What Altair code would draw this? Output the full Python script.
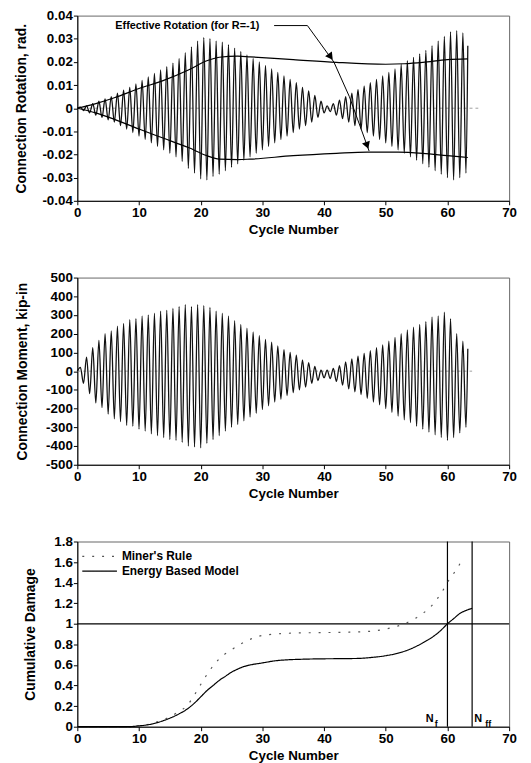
import altair as alt
import pandas as pd

FONT = "Liberation Sans"
X_TICKS = [0, 10, 20, 30, 40, 50, 60, 70]

# ---------------- Panel 1: connection rotation (rad) ----------------
# positive peak of each cycle (cycle k, at k+0.5) and negative peak (at k+1)
rot_peaks = [0.0005, 0.001, 0.002, 0.003, 0.004, 0.005, 0.0065, 0.0078, 0.009, 0.0105,
             0.012, 0.0135, 0.015, 0.0165, 0.018, 0.0195, 0.0215, 0.024, 0.0265, 0.029,
             0.0305, 0.030, 0.029, 0.0285, 0.0275, 0.026, 0.0245, 0.023, 0.0215, 0.020,
             0.0185, 0.017, 0.0155, 0.014, 0.0125, 0.011, 0.009, 0.0075, 0.0055, 0.003,
             0.001, 0.002, 0.0035, 0.005, 0.0065, 0.008, 0.0095, 0.011, 0.0125, 0.014,
             0.0155, 0.017, 0.019, 0.0205, 0.022, 0.0235, 0.025, 0.027, 0.029, 0.031,
             0.033, 0.0335, 0.0325]
rot_troughs = [-0.001, -0.002, -0.003, -0.004, -0.005, -0.006, -0.0075, -0.009, -0.0105, -0.012,
               -0.0135, -0.015, -0.0165, -0.018, -0.0195, -0.021, -0.023, -0.026, -0.028, -0.0305,
               -0.031, -0.0295, -0.0285, -0.027, -0.0255, -0.024, -0.0225, -0.021, -0.0195, -0.018,
               -0.0165, -0.015, -0.0135, -0.012, -0.0105, -0.009, -0.0075, -0.006, -0.004, -0.002,
               -0.0015, -0.003, -0.0045, -0.006, -0.0075, -0.009, -0.0105, -0.012, -0.0135, -0.015,
               -0.0165, -0.018, -0.0195, -0.021, -0.0225, -0.024, -0.0255, -0.027, -0.0285, -0.030,
               -0.031, -0.030, -0.028]
rot_end = [63.3, 0.027]

# effective rotation envelope (for R=-1)
env_up_x = [0, 3, 6, 10, 14, 18, 21, 23, 26, 28, 35, 42, 50, 53, 56, 60, 63.3]
env_up_y = [0, 0.002, 0.0045, 0.0085, 0.012, 0.0165, 0.0205, 0.022, 0.0225, 0.0222,
            0.021, 0.0198, 0.019, 0.0192, 0.0198, 0.021, 0.0213]
env_lo_x = [0, 3, 6, 10, 14, 18, 21, 23, 26, 28, 35, 42, 47, 52, 56, 60, 63.3]
env_lo_y = [0, -0.002, -0.0048, -0.009, -0.013, -0.017, -0.0205, -0.022, -0.0222, -0.022,
            -0.0205, -0.0195, -0.019, -0.019, -0.0195, -0.0205, -0.0213]

annot_text = ["Effective Rotation (for R=-1)"]
annot_x = [6.15]
annot_y = [0.0355]
leader_x = [31.9, 37.3, 41.6, 44.1, 47.3]
leader_y = [0.0357, 0.0357, 0.0199, 0.005, -0.0185]
arrow_x = [41.06, 46.98]
arrow_y = [0.0222, -0.0161]
arrow_angle = [324, 340]

# ---------------- Panel 2: connection moment (kip-in) ----------------
mom_peaks = [20, 75, 125, 165, 200, 215, 240, 255, 275, 280,
             295, 300, 310, 320, 325, 335, 345, 355, 345, 355,
             350, 340, 320, 310, 295, 270, 250, 230, 210, 190,
             170, 155, 135, 115, 100, 85, 60, 45, 25, 5,
             5, 15, 30, 50, 65, 80, 95, 110, 125, 140,
             160, 180, 200, 220, 235, 250, 265, 290, 295, 315,
             280, 200, 160]
mom_troughs = [-65, -120, -170, -195, -230, -255, -270, -290, -295, -310,
               -320, -335, -345, -355, -365, -370, -380, -400, -405, -410,
               -385, -365, -345, -320, -300, -285, -265, -245, -225, -205,
               -185, -165, -150, -130, -115, -100, -85, -65, -50, -35,
               -40, -55, -75, -95, -110, -125, -145, -165, -180, -200,
               -220, -240, -260, -275, -295, -310, -325, -340, -355, -370,
               -355, -330, -300]
mom_end = [63.3, 120]

# ---------------- Panel 3: cumulative damage ----------------
miner_x = [0, 8, 10, 12, 14, 16, 18, 19, 20, 21.5, 23, 24.8, 27, 29.5, 32, 35, 40, 45, 47,
           50, 53, 55, 56, 57.5, 59, 60.5, 61.5, 62.5]
miner_y = [0, 0, 0.01, 0.03, 0.07, 0.13, 0.22, 0.31, 0.41, 0.55, 0.66, 0.74, 0.82, 0.88,
           0.90, 0.91, 0.915, 0.92, 0.925, 0.95, 1.0, 1.06, 1.10, 1.18, 1.30, 1.45, 1.53, 1.64]
energy_x = [0, 8, 10, 12, 14, 16, 18, 19, 20, 21, 22, 23, 24, 25, 26, 27, 28, 30, 32, 34, 36,
            40, 44, 46, 48, 50, 52, 54, 56, 58, 59, 60, 61, 62, 63, 64]
energy_y = [0, 0, 0.008, 0.025, 0.06, 0.11, 0.18, 0.23, 0.29, 0.35, 0.40, 0.45, 0.49, 0.53,
            0.56, 0.585, 0.60, 0.62, 0.64, 0.65, 0.655, 0.66, 0.662, 0.665, 0.675, 0.69,
            0.715, 0.755, 0.815, 0.89, 0.94, 1.0, 1.05, 1.10, 1.13, 1.15]
failure_x = [60, 64]
damage_limit = [1.0]
n_text = ["N", "f", "N", "ff"]
n_x = [57.1, 58.2, 65.0, 66.6]
n_y = [0.075, 0.03, 0.075, 0.03]
n_size = [11, 9, 11, 9]
series_names = ["Miner's Rule", "Energy Based Model"]


def osc_frame(peaks, troughs, end):
    xs, ys = [0.0], [0.0]
    for k, (p, t) in enumerate(zip(peaks, troughs)):
        xs += [k + 0.5, k + 1.0]
        ys += [p, t]
    xs.append(end[0])
    ys.append(end[1])
    return pd.DataFrame({"x": xs, "y": ys})


X_AX = alt.Axis(values=X_TICKS, title="Cycle Number", labelFlush=False, titlePadding=4,
                labelOverlap=False, tickCount=len(X_TICKS))


def y_axis(title, values, fmt, pad):
    expr = ("datum.value < 0 ? '-' + format(-datum.value, '%s') : format(datum.value, '%s')"
            % (fmt, fmt))
    return alt.Axis(values=values, title=title, labelExpr=expr, titlePadding=pad,
                    titleFontSize=14, labelOverlap=False, tickCount=len(values))


W = 436
xs = alt.Scale(domain=[0, 70], nice=False, zero=False)


def enc(chart, ys, yax, **kw):
    return chart.encode(x=alt.X("x:Q", scale=xs, axis=X_AX),
                        y=alt.Y("y:Q", scale=ys, axis=yax), **kw)


# ---- panel 1
rot_df = osc_frame(rot_peaks, rot_troughs, rot_end)
ys1 = alt.Scale(domain=[-0.04, 0.04], nice=False)
y1_vals = [-0.04, -0.03, -0.02, -0.01, 0, 0.01, 0.02, 0.03, 0.04]
ax1 = y_axis("Connection Rotation, rad.", y1_vals, ".2~f", 14)

zero1 = enc(alt.Chart(pd.DataFrame({"x": [0, 65], "y": [0, 0]})).mark_line(
    color="#888", strokeWidth=0.8, strokeDash=[3, 3]), ys1, ax1)
rot_line = enc(alt.Chart(rot_df).mark_line(color="#111", strokeWidth=1.3,
                                           interpolate="monotone"), ys1, ax1)
env_df = pd.concat([
    pd.DataFrame({"x": env_up_x, "y": env_up_y, "s": "up"}),
    pd.DataFrame({"x": env_lo_x, "y": env_lo_y, "s": "lo"})])
env_line = enc(alt.Chart(env_df).mark_line(color="black", strokeWidth=1.2,
                                           interpolate="monotone"), ys1, ax1, detail="s:N")
leader = enc(alt.Chart(pd.DataFrame({"x": leader_x, "y": leader_y,
                                     "o": range(len(leader_x))})).mark_line(
    color="black", strokeWidth=1), ys1, ax1, order="o:Q")
arrows = enc(alt.Chart(pd.DataFrame({"x": arrow_x, "y": arrow_y, "a": arrow_angle})).mark_point(
    shape="triangle-down", filled=True, color="black", size=70, opacity=1), ys1, ax1,
    angle=alt.Angle("a:Q", scale=None))
annot = enc(alt.Chart(pd.DataFrame({"x": annot_x, "y": annot_y, "t": annot_text})).mark_text(
    align="left", baseline="middle", font=FONT, fontWeight="bold", fontSize=11, color="black"),
    ys1, ax1, text="t:N")
panel1 = alt.layer(zero1, rot_line, env_line, leader, arrows, annot).properties(
    width=W, height=187)

# ---- panel 2
mom_df = osc_frame(mom_peaks, mom_troughs, mom_end)
ys2 = alt.Scale(domain=[-500, 500], nice=False)
y2_vals = [-500, -400, -300, -200, -100, 0, 100, 200, 300, 400, 500]
ax2 = y_axis("Connection Moment, kip-in", y2_vals, "d", 16)
zero2 = enc(alt.Chart(pd.DataFrame({"x": [0, 64], "y": [0, 0]})).mark_line(
    color="#888", strokeWidth=0.8, strokeDash=[3, 3]), ys2, ax2)
mom_line = enc(alt.Chart(mom_df).mark_line(color="#111", strokeWidth=1.3,
                                           interpolate="monotone"), ys2, ax2)
panel2 = alt.layer(zero2, mom_line).properties(width=W, height=189)

# ---- panel 3
ys3 = alt.Scale(domain=[0, 1.8], nice=False)
y3_vals = [0, 0.2, 0.4, 0.6, 0.8, 1.0, 1.2, 1.4, 1.6, 1.8]
ax3 = y_axis("Cumulative Damage", y3_vals, ".1~f", 16)
dmg_df = pd.concat([
    pd.DataFrame({"x": miner_x, "y": miner_y, "series": series_names[0]}),
    pd.DataFrame({"x": energy_x, "y": energy_y, "series": series_names[1]})])
leg = alt.Legend(orient="none", legendX=4, legendY=8, title=None, symbolType="stroke",
                 symbolSize=1225, clipHeight=14, labelFont=FONT, labelFontWeight="bold",
                 labelFontSize=12, labelOffset=4, symbolStrokeWidth=1.2, rowPadding=1,
                 padding=0, labelColor="black")
dmg_lines = enc(alt.Chart(dmg_df).mark_line(strokeWidth=1.2, interpolate="monotone"), ys3, ax3,
                color=alt.Color("series:N", scale=alt.Scale(domain=series_names,
                                                            range=["#555", "black"]),
                                legend=leg),
                strokeDash=alt.StrokeDash("series:N",
                                          scale=alt.Scale(domain=series_names,
                                                          range=[[2, 8], [1, 0]]),
                                          legend=leg))
vrules = alt.Chart(pd.DataFrame({"x": failure_x})).mark_rule(
    color="black", strokeWidth=1.2).encode(x=alt.X("x:Q", scale=xs, axis=X_AX))
hrule = alt.Chart(pd.DataFrame({"y": damage_limit})).mark_rule(
    color="black", strokeWidth=1.2).encode(y=alt.Y("y:Q", scale=ys3, axis=ax3))
nlab = enc(alt.Chart(pd.DataFrame({"x": n_x, "y": n_y, "t": n_text, "s": n_size})).mark_text(
    font=FONT, fontWeight="bold", color="black", baseline="middle"), ys3, ax3,
    text="t:N", size=alt.Size("s:Q", scale=None, legend=None))
panel3 = alt.layer(hrule, vrules, dmg_lines, nlab).properties(width=W, height=187)

chart = alt.vconcat(panel1, panel2, panel3, spacing=32.5).resolve_legend(
    color="independent", strokeDash="independent", size="independent"
).properties(
    padding={"left": 5, "right": 5, "top": -4, "bottom": 0}
).configure_view(stroke="#666", strokeWidth=1).configure_axis(
    labelFont=FONT, labelFontWeight="bold", labelFontSize=13.5, labelColor="black",
    titleFont=FONT, titleFontWeight="bold", titleFontSize=13.5, titleColor="black",
    domainColor="black", tickColor="black", tickSize=4, labelPadding=1, grid=False,
    labelOverlap=False
)

chart.save("out.html", embed_options={"renderer": "svg", "actions": False})
